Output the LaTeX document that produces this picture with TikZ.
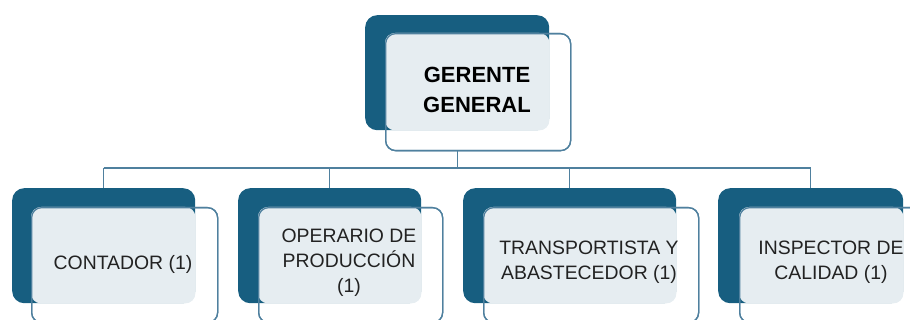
\documentclass[tikz,border=0pt]{standalone}
\usepackage{fontspec}
\setmainfont{Liberation Sans}
\definecolor{dkblue}{HTML}{175E80}
\definecolor{lightfill}{HTML}{E6EDF1}
\definecolor{edgeblue}{HTML}{4F809E}
\definecolor{txtgray}{HTML}{222222}
\begin{document}
\begin{tikzpicture}[x=1pt,y=-1pt,
  darkbox/.style={fill=dkblue, draw=none, rounded corners=12pt, minimum height=115pt, inner sep=0pt, anchor=north west},
  outbox/.style={draw=edgeblue, line width=1.3pt, fill=none, rounded corners=10pt, minimum height=115pt, inner sep=0pt, anchor=north west},
  litefill/.style={fill=lightfill, rounded corners=10pt},
  conn/.style={draw=edgeblue, line width=1.2pt},
  lbl/.style={align=center, text=txtgray, font=\fontsize{19.4}{25}\selectfont, inner sep=0pt},
  toplbl/.style={align=center, text=black, font=\fontsize{22}{29.5}\selectfont\bfseries, inner sep=0pt}
]
\useasboundingbox (0,0) rectangle (910,320);
\clip (0,0) rectangle (910,320);

% top box
\node[darkbox, minimum width=184pt] (gd) at (365,15) {};
\node[outbox, minimum width=185pt, minimum height=117pt] (go) at (385,33) {};
\fill[litefill] (go.north west) rectangle (gd.south east);
\node[outbox, minimum width=185pt, minimum height=117pt] at (385,33) {};
\node[toplbl] (gt) at (477,90) {GERENTE\\GENERAL};

% bottom boxes
\node[darkbox, minimum width=183pt] (d1) at (12,188) {};
\node[outbox, minimum width=186pt] (o1) at (31,207) {};
\fill[litefill] (o1.north west) rectangle (d1.south east);
\node[outbox, minimum width=186pt] at (31,207) {};
\node[lbl] (t1) at (123,264) {CONTADOR (1)};

\node[darkbox, minimum width=183pt] (d2) at (238,188) {};
\node[outbox, minimum width=184pt] (o2) at (258,207) {};
\fill[litefill] (o2.north west) rectangle (d2.south east);
\node[outbox, minimum width=184pt] at (258,207) {};
\node[lbl] (t2) at (349,263) {OPERARIO DE\\PRODUCCIÓN\\(1)};

\node[darkbox, minimum width=213pt] (d3) at (463,188) {};
\node[outbox, minimum width=215pt] (o3) at (483,207) {};
\fill[litefill] (o3.north west) rectangle (d3.south east);
\node[outbox, minimum width=215pt] at (483,207) {};
\node[lbl] (t3) at (589,262) {TRANSPORTISTA Y\\ABASTECEDOR (1)};

\node[darkbox, minimum width=185pt] (d4) at (718,188) {};
\node[outbox, minimum width=185pt] (o4) at (739,207) {};
\fill[litefill] (o4.north west) rectangle (d4.south east);
\node[outbox, minimum width=185pt] at (739,207) {};
\node[lbl] (t4) at (831,262) {INSPECTOR DE\\CALIDAD (1)};

% connectors
\coordinate (bus) at (0,168);
\draw[conn] (gd.south |- go.south) -- (gd.south |- bus);
\draw[conn] (d1.north |- bus) -- (d4.north |- bus);
\draw[conn] (d1.north |- bus) -- (d1.north);
\draw[conn] (d2.north |- bus) -- (d2.north);
\draw[conn] (d3.north |- bus) -- (d3.north);
\draw[conn] (d4.north |- bus) -- (d4.north);
\end{tikzpicture}
\end{document}
